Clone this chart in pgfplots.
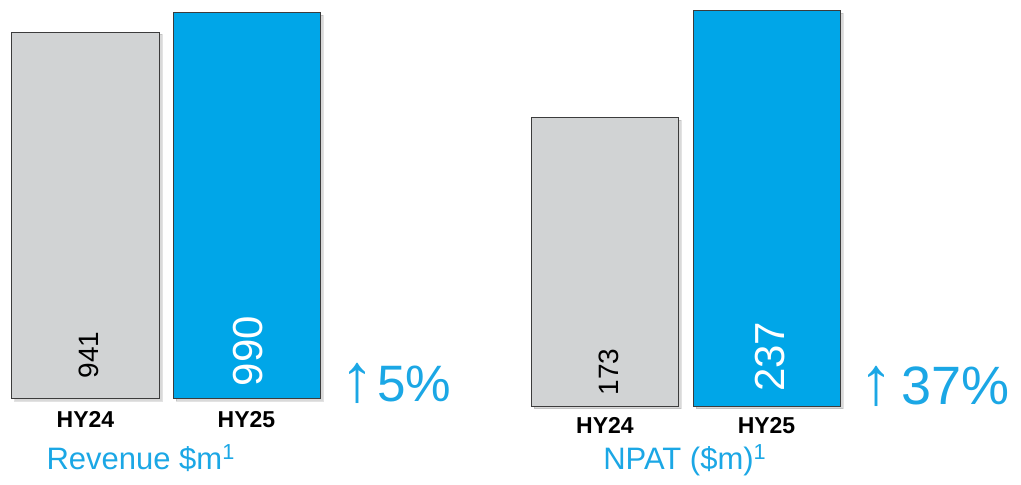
\documentclass[border=0pt]{standalone}
\usepackage{pgfplots}
\pgfplotsset{compat=1.18}
\usepackage{fontspec}
\setmainfont{Liberation Sans}
\usetikzlibrary{shadows}
\definecolor{bargrey}{HTML}{D1D3D4}
\definecolor{barblue}{HTML}{00A6E8}
\definecolor{txtblue}{HTML}{1BA7E5}
\definecolor{edge}{HTML}{3C3C3C}
\pgfplotsset{
  barax/.style={
    scale only axis, anchor=south west, clip=false,
    ymin=0, axis line style={draw=none}, ytick=\empty,
    xtick={0,1}, xticklabels={HY24,HY25}, major tick length=0pt,
    tick style={draw=none},
    xticklabel style={font=\fontsize{11.5}{13}\selectfont\bfseries, inner sep=0pt, anchor=north},
    ybar, bar width=73.5pt, bar shift=0pt,
    every axis plot/.append style={draw=edge, line width=0.5pt,
      general shadow={fill=black, opacity=0.15, shadow xshift=1.5pt, shadow yshift=-1.2pt}},
  }
}
\begin{document}
\begin{tikzpicture}
\path[use as bounding box] (0,0) rectangle (510.5pt,242.5pt);
% Revenue
\begin{axis}[barax, at={(6pt,43pt)}, width=154pt, height=193pt,
  xmin=-0.4565, xmax=1.4565, ymax=990,
  xticklabel style={yshift=-6.0pt}]
\addplot[fill=bargrey] coordinates {(0,941)};
\addplot[fill=barblue] coordinates {(1,990)};
\node[rotate=90, inner sep=0pt, font=\fontsize{14}{16}\selectfont, text=black] at (axis cs:0.022,113) {941};
\node[rotate=90, inner sep=0pt, font=\fontsize{21}{24}\selectfont, text=white] at (axis cs:1.01,123) {990};
\end{axis}
% NPAT
\begin{axis}[barax, at={(265.5pt,39.25pt)}, width=154.5pt, height=197.75pt,
  xmin=-0.458, xmax=1.455, ymax=237,
  xticklabel style={yshift=-5.5pt}]
\addplot[fill=bargrey] coordinates {(0,173)};
\addplot[fill=barblue] coordinates {(1,237)};
\node[rotate=90, inner sep=0pt, font=\fontsize{14}{16}\selectfont, text=black] at (axis cs:0.025,20.7) {173};
\node[rotate=90, inner sep=0pt, font=\fontsize{21}{24}\selectfont, text=white] at (axis cs:1.022,29.7) {237};
\end{axis}
% titles
\node[anchor=base, inner sep=0pt, text=txtblue, font=\fontsize{15.5}{18}\selectfont] at (70.5pt,7.5pt) {Revenue \$m\textsuperscript{1}};
\node[anchor=base, inner sep=0pt, text=txtblue, font=\fontsize{15.5}{18}\selectfont] at (342.5pt,7.5pt) {NPAT (\$m)\textsuperscript{1}};
% growth
\node[anchor=base west, inner sep=0pt, text=txtblue, font=\fontsize{25.6}{30}\selectfont] at (170pt,41.65pt) {{\fontsize{34}{36}\selectfont ↑}\kern1.5pt5\%};
\node[anchor=base west, inner sep=0pt, text=txtblue, font=\fontsize{27}{32}\selectfont] at (429.5pt,40pt) {{\fontsize{34}{36}\selectfont ↑}\kern4pt37\%};
\end{tikzpicture}
\end{document}
